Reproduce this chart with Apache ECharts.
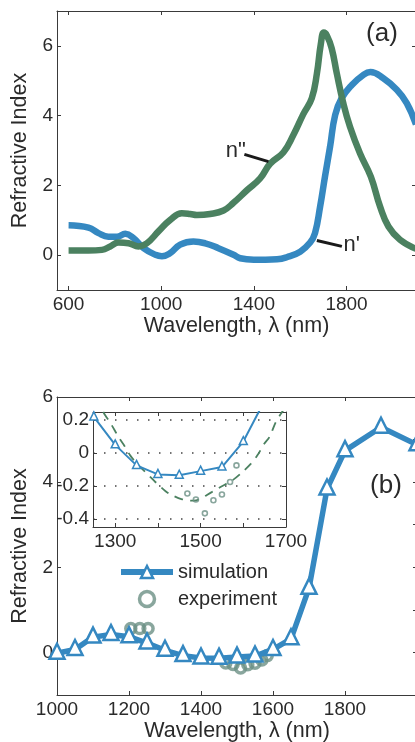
<!DOCTYPE html>
<html>
<head>
<meta charset="utf-8">
<script src="https://cdn.jsdelivr.net/npm/echarts@6/dist/echarts.min.js"></script>
<style>
  html, body { margin: 0; padding: 0; background: #fff; }
  #chart { width: 415px; height: 742px; }
</style>
</head>
<body>
<div id="chart"></div>
<script>
// ---- panel (a): n' (blue) and n'' (green)
var waveReal = [600, 686, 729, 772, 809, 845, 880, 924, 975, 1003, 1039, 1082, 1139, 1190, 1247, 1312, 1341, 1400, 1450, 1500, 1542, 1600, 1643, 1664, 1686, 1707, 1729, 1751, 1779, 1823, 1873, 1903, 1959, 2017, 2060, 2100];
var nReal = [0.86, 0.79, 0.63, 0.53, 0.53, 0.61, 0.49, 0.2, 0.01, -0.03, 0.06, 0.3, 0.39, 0.34, 0.2, 0.01, -0.09, -0.13, -0.13, -0.12, -0.06, 0.1, 0.36, 0.63, 1.39, 2.25, 3.11, 4.02, 4.5, 4.88, 5.17, 5.25, 5.07, 4.74, 4.36, 3.75];
var waveImag = [600, 686, 744, 780, 816, 859, 902, 938, 988, 1039, 1089, 1125, 1154, 1211, 1269, 1312, 1370, 1427, 1470, 1528, 1571, 1614, 1650, 1672, 1689, 1702, 1715, 1736, 1758, 1786, 1815, 1858, 1905, 1945, 1981, 2031, 2100];
var nImag = [0.13, 0.13, 0.15, 0.25, 0.36, 0.34, 0.25, 0.34, 0.68, 1.01, 1.2, 1.18, 1.15, 1.18, 1.28, 1.5, 1.86, 2.2, 2.62, 2.95, 3.45, 4.05, 4.5, 5.2, 6.05, 6.38, 6.3, 5.93, 5.21, 4.36, 3.68, 2.92, 2.25, 1.39, 0.82, 0.44, 0.18];

// ---- panel (b): simulation, experiment, fit in the inset
var simWave = [1000, 1050, 1100, 1150, 1200, 1250, 1300, 1350, 1400, 1450, 1500, 1550, 1600, 1650, 1700, 1750, 1800, 1900, 2000];
var simValue = [-0.02, 0.07, 0.36, 0.42, 0.37, 0.22, 0.05, -0.075, -0.13, -0.135, -0.11, -0.085, 0.07, 0.32, 1.51, 3.84, 4.74, 5.29, 4.88];
var expWave = [1205, 1230, 1253, 1469, 1489, 1510, 1530, 1550, 1569, 1584];
var expValue = [0.56, 0.56, 0.56, -0.246, -0.283, -0.367, -0.287, -0.252, -0.176, -0.075];
var fitWave = [1272, 1277, 1290, 1308, 1320, 1335, 1351, 1382, 1394, 1418, 1433, 1455, 1484, 1527, 1551, 1575, 1594, 1618, 1633, 1649, 1661, 1676, 1688, 1696];
var fitValue = [0.25, 0.228, 0.178, 0.097, 0.051, -0.014, -0.064, -0.145, -0.176, -0.232, -0.256, -0.28, -0.29, -0.236, -0.2, -0.165, -0.125, -0.064, -0.014, 0.057, 0.097, 0.188, 0.239, 0.27];

// tick positions
var aTicksX = [600, 1000, 1400, 1800];
var aTicksY = [0, 2, 4, 6];
var bTicksX = [1000, 1200, 1400, 1600, 1800, 2000];
var bLabelsX = [1000, 1200, 1400, 1600, 1800];
var bTicksY = [0, 2, 4, 6];
var bTicksYRight = [0, 1, 2, 3, 4, 5];
var insetTicksX = [1300, 1400, 1500, 1600, 1700];
var insetLabelsX = [1300, 1500, 1700];
var insetTicksY = [-0.4, -0.2, 0, 0.2];

function pairs(xs, ys) {
  var out = [];
  for (var i = 0; i < xs.length; i++) out.push([xs[i], ys[i]]);
  return out;
}

var FONT = 'Liberation Sans';
var AXIS = '#3a3a3a';
var TEXT = '#2a2a2a';
var BLUE = '#3588c1';
var GREEN = '#4b8160';
var EXP = '#6c9084';

// plain numbers, no thousands separator
function plain(v) { return String(Math.round(v * 100) / 100); }

// one axis of a box; labels only on bottom/left ones
function xAx(grid, min, max, pos, ticks, labels, name) {
  return {
    type: 'value', gridIndex: grid, min: min, max: max, position: pos,
    axisLine: { show: true, onZero: false, lineStyle: { color: AXIS, width: 1 } },
    axisTick: { show: true, inside: true, length: 4, customValues: ticks, lineStyle: { color: AXIS } },
    axisLabel: { show: !!labels, customValues: labels || ticks, formatter: plain, margin: 5, color: TEXT, fontFamily: FONT, fontSize: 19 },
    splitLine: { show: false },
    name: name || '', nameLocation: 'middle', nameGap: 24,
    nameTextStyle: { color: TEXT, fontFamily: FONT, fontSize: 21.5 }
  };
}
function yAx(grid, min, max, pos, ticks, labels, name, dotted) {
  return {
    type: 'value', gridIndex: grid, min: min, max: max, position: pos,
    axisLine: { show: true, onZero: false, lineStyle: { color: AXIS, width: 1 } },
    axisTick: { show: true, inside: true, length: 4, customValues: ticks, lineStyle: { color: AXIS } },
    axisLabel: { show: !!labels, customValues: labels || ticks, formatter: plain, margin: 4, color: TEXT, fontFamily: FONT, fontSize: 19 },
    splitLine: { show: !!dotted, lineStyle: { color: '#444', type: [1.5, 9.5], width: 1.5 } },
    name: name || '', nameLocation: 'middle', nameGap: 25,
    nameTextStyle: { color: TEXT, fontFamily: FONT, fontSize: 21.5 }
  };
}

var chart = echarts.init(document.getElementById('chart'), null, { renderer: 'canvas' });

var option = {
  backgroundColor: '#fff',
  animation: false,
  grid: [
    { left: 57, top: 11, width: 359, height: 279, outerBoundsMode: 'none' },
    { left: 57, top: 397, width: 360, height: 298, outerBoundsMode: 'none' },
    { left: 93, top: 412, width: 193, height: 115, outerBoundsMode: 'none', show: true, backgroundColor: '#fff', borderWidth: 0, z: 5 }
  ],
  xAxis: [
    xAx(0, 550, 2100, 'bottom', aTicksX, aTicksX, 'Wavelength, \u03bb (nm)'),
    xAx(0, 550, 2100, 'top', aTicksX, null),
    xAx(1, 1000, 2000, 'bottom', bTicksX, bLabelsX, 'Wavelength, \u03bb (nm)'),
    xAx(1, 1000, 2000, 'top', bTicksX, null),
    Object.assign(xAx(2, 1248, 1700, 'bottom', insetTicksX, insetLabelsX), { z: 6 }),
    Object.assign(xAx(2, 1248, 1700, 'top', insetTicksX, null), { z: 6 })
  ],
  yAxis: [
    yAx(0, -1, 7, 'left', aTicksY, aTicksY, 'Refractive Index'),
    yAx(0, -1, 7, 'right', aTicksY, null),
    yAx(1, -1, 6, 'left', bTicksY, bTicksY, 'Refractive Index'),
    yAx(1, -1, 6, 'right', bTicksYRight, null),
    Object.assign(yAx(2, -0.45, 0.25, 'left', insetTicksY, insetTicksY, '', true), { z: 6 }),
    Object.assign(yAx(2, -0.45, 0.25, 'right', insetTicksY, null), { z: 6 })
  ],
  legend: {
    left: 118, top: 562, orient: 'vertical', padding: 0,
    itemWidth: 52, itemHeight: 15, itemGap: 7,
    textStyle: { color: TEXT, fontFamily: FONT, fontSize: 20 },
    data: [
      { name: 'simulation', lineStyle: { width: 6 }, itemStyle: { borderWidth: 2.5 } },
      { name: 'experiment', itemStyle: { borderWidth: 3.5 } }
    ]
  },
  graphic: [
    { type: 'text', x: 382, y: 34, z: 10, style: { text: '(a)', fill: TEXT, font: '26px ' + FONT, align: 'center', verticalAlign: 'middle' } },
    { type: 'text', x: 386, y: 486, z: 10, style: { text: '(b)', fill: TEXT, font: '26px ' + FONT, align: 'center', verticalAlign: 'middle' } }
  ],
  series: [
    {
      name: "n'", type: 'line', xAxisIndex: 0, yAxisIndex: 0,
      data: pairs(waveReal, nReal), smooth: 0.45, showSymbol: false,
      lineStyle: { color: BLUE, width: 6.5 }, itemStyle: { color: BLUE },
      markLine: {
        silent: true, symbol: 'none', label: { show: false },
        lineStyle: { color: '#1a1a1a', width: 3, type: 'solid' },
        data: [
          [{ coord: [1672, 0.42] }, { coord: [1780, 0.25] }],
          [{ coord: [1359, 2.89] }, { coord: [1463, 2.68] }]
        ]
      },
      markPoint: {
        silent: true, symbol: 'circle', symbolSize: 1, itemStyle: { color: 'rgba(0,0,0,0)' },
        label: { show: true, position: 'inside', color: TEXT, fontFamily: FONT, fontSize: 22 },
        data: [
          { coord: [1822, 0.28], label: { formatter: "n'" } },
          { coord: [1322, 3.0], label: { formatter: 'n"' } }
        ]
      }
    },
    {
      name: 'n"', type: 'line', xAxisIndex: 0, yAxisIndex: 0,
      data: pairs(waveImag, nImag), smooth: 0.45, showSymbol: false,
      lineStyle: { color: GREEN, width: 6.5 }, itemStyle: { color: GREEN }
    },
    {
      name: 'simulation', type: 'line', xAxisIndex: 2, yAxisIndex: 2,
      data: pairs(simWave, simValue), symbol: 'triangle', symbolSize: 15, symbolOffset: [0, -2],
      showAllSymbol: true,
      lineStyle: { color: BLUE, width: 5.5 },
      itemStyle: { color: '#fff', borderColor: BLUE, borderWidth: 2.5 }
    },
    {
      name: 'experiment', type: 'scatter', xAxisIndex: 2, yAxisIndex: 2,
      data: pairs(expWave, expValue), symbol: 'circle', symbolSize: 10,
      itemStyle: { color: 'rgba(255,255,255,0)', borderColor: EXP, borderWidth: 3.5 }
    },
    {
      name: 'fit-inset', type: 'line', xAxisIndex: 4, yAxisIndex: 4, z: 7,
      data: pairs(fitWave, fitValue), smooth: 0.3, showSymbol: false, clip: true,
      lineStyle: { color: GREEN, width: 1.8, type: [9, 7] }
    },
    {
      name: 'sim-inset', type: 'line', xAxisIndex: 4, yAxisIndex: 4, z: 8,
      data: pairs(simWave, simValue), symbol: 'triangle', symbolSize: 8, symbolOffset: [0, -1],
      showAllSymbol: true, clip: true,
      lineStyle: { color: BLUE, width: 2 },
      itemStyle: { color: '#fff', borderColor: BLUE, borderWidth: 1.5 }
    },
    {
      name: 'exp-inset', type: 'scatter', xAxisIndex: 4, yAxisIndex: 4, z: 8, clip: true,
      data: pairs(expWave, expValue), symbol: 'circle', symbolSize: 5,
      itemStyle: { color: 'rgba(255,255,255,0)', borderColor: EXP, borderWidth: 1.6 }
    }
  ]
};
chart.setOption(option);
</script>
</body>
</html>
